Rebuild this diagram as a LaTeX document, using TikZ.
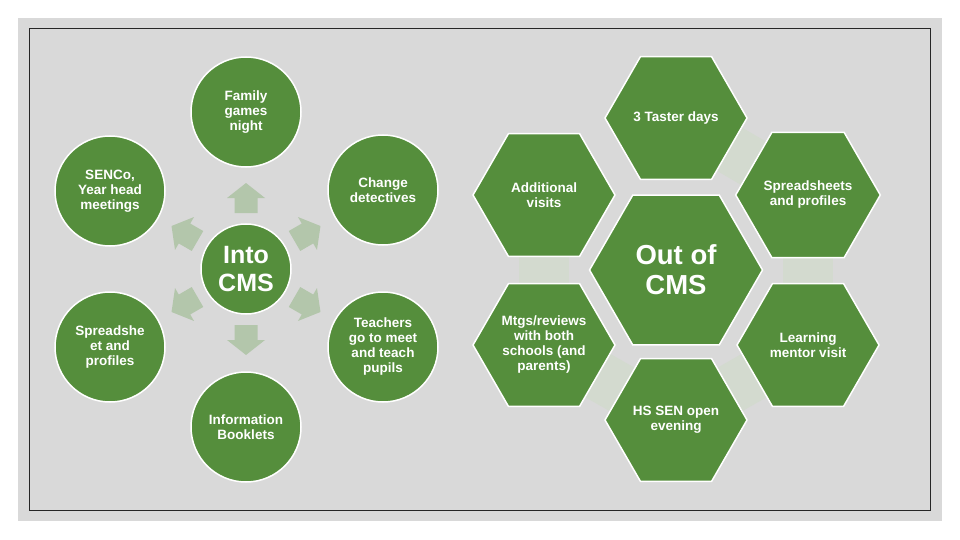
\documentclass[tikz,border=0pt]{standalone}
\usepackage{fontspec}
\setmainfont{Liberation Sans}
\usetikzlibrary{shapes.geometric,backgrounds}
\definecolor{bg}{HTML}{D9D9D9}
\definecolor{grn}{HTML}{558E3C}
\definecolor{arr}{HTML}{B3C6AB}
\definecolor{linkc}{HTML}{D3DACF}
\definecolor{frame}{HTML}{262626}
\begin{document}
\begin{tikzpicture}[x=1pt,y=-1pt,
  circ/.style={circle, fill=grn, draw=white, line width=1.5pt, minimum size=110pt, inner sep=0pt, text=white, align=center, font=\bfseries\fontsize{13.5}{15}\selectfont},
  hub/.style={circ, minimum size=90pt, font=\bfseries\fontsize{25}{28}\selectfont},
  hex/.style={regular polygon, regular polygon sides=6, fill=grn, draw=white, line width=1.5pt, minimum size=142pt, inner sep=0pt, text=white, align=center, font=\bfseries\fontsize{13.5}{15}\selectfont},
  bighex/.style={hex, minimum size=173pt, font=\bfseries\fontsize{27.5}{30}\selectfont},
  arrowfill/.style={fill=arr},
  linkband/.style={draw=linkc, line width=50pt}
]
\useasboundingbox (0,0) rectangle (960,540);
% circles
\node[hub] (into) at (246,269) {Into\\CMS};
\node[circ] (family) at (246,112) {Family\\games\\night};
\node[circ] (change) at (383,190) {Change\\detectives};
\node[circ] (teach) at (383,347) {Teachers\\go to meet\\and teach\\pupils};
\node[circ] (info) at (246,427) {Information\\Booklets};
\node[circ] (sheet) at (110,347) {Spreadshe\\et and\\profiles};
\node[circ] (senco) at (110,191) {SENCo,\\Year head\\meetings};
% arrows
\foreach \a in {90,30,-30,-90,-150,150}{
  \fill[arrowfill, shift={(into.center)}, rotate=\a, xshift=71pt]
    (-15,-11.5) -- (0,-11.5) -- (0,-19) -- (15,0) -- (0,19) -- (0,11.5) -- (-15,11.5) -- cycle;
}
% hexagons
\node[bighex] (out) at (676,270) {Out of\\CMS};
\node[hex] (taster) at (676,118) {3 Taster days};
\node[hex] (addl) at (544,195) {Additional\\visits};
\node[hex] (spread) at (808,195) {Spreadsheets\\and profiles};
\node[hex] (mtgs) at (544,345) {Mtgs/reviews\\with both\\schools (and\\parents)};
\node[hex] (learn) at (808,345) {Learning\\mentor visit};
\node[hex] (hssen) at (676,420) {HS SEN open\\evening};
\begin{scope}[on background layer]
  \fill[white] (0,0) rectangle (960,540);
  \fill[bg] (18,18) rectangle (942,521);
  \draw[frame, line width=1pt] (29,29) rectangle (930,510);
  \draw[linkband] (taster.center) -- (spread.center);
  \draw[linkband] (spread.center) -- (learn.center);
  \draw[linkband] (learn.center) -- (hssen.center);
  \draw[linkband] (hssen.center) -- (mtgs.center);
  \draw[linkband] (mtgs.center) -- (addl.center);
\end{scope}
\end{tikzpicture}
\end{document}
